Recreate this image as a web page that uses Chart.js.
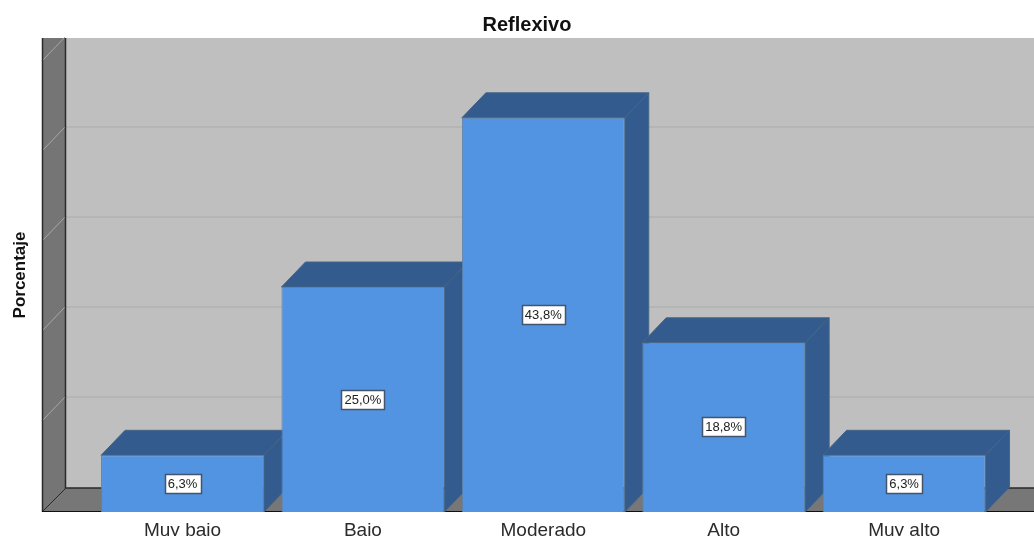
<!DOCTYPE html>
<html><head><meta charset="utf-8">
<style>html,body{margin:0;padding:0;background:#fff;overflow:hidden}#w{width:1034px;height:536px;position:relative}</style>
<script src="https://cdn.jsdelivr.net/npm/chart.js@4"></script>
</head><body><div id="w"><canvas id="c"></canvas></div>
<script>
const categories = ["Muy bajo","Bajo","Moderado","Alto","Muy alto"];
const values = [6.3,25.0,43.8,18.8,6.3];
const valueLabels = ["6,3%","25,0%","43,8%","18,8%","6,3%"];
const gridTicks = [10,20,30,40,50];
const chartTitle = "Reflexivo";
const axisTitle = "Porcentaje";
const yMax = 52.67;
const DX = 24, DY = 25, WALL_LEFT = 42;

const scene3d = {
  id:'scene3d',
  beforeDatasetsDraw(chart){
    const {ctx,scales:{x,y},chartArea:a,width} = chart;
    const y0 = y.getPixelForValue(0), back0 = y0-24, wx = WALL_LEFT+DX;
    const top = a.top;
    ctx.save();
    // back wall
    ctx.fillStyle='#bfbfbf'; ctx.fillRect(wx,top,width-wx,back0-top);
    // floor
    ctx.fillStyle='#777777'; ctx.beginPath();
    ctx.moveTo(WALL_LEFT,y0);ctx.lineTo(wx,back0);ctx.lineTo(width,back0);ctx.lineTo(width,y0);ctx.closePath();ctx.fill();
    // left wall
    ctx.fillStyle='#757575'; ctx.beginPath();
    ctx.moveTo(WALL_LEFT,top);ctx.lineTo(wx,top);ctx.lineTo(wx,back0);ctx.lineTo(WALL_LEFT,y0);ctx.closePath();ctx.fill();
    // grid lines on wall and back
    gridTicks.forEach(t=>{
      const py = y.getPixelForValue(t)-DY;
      ctx.lineWidth=1;
      ctx.strokeStyle='#a8a8a8'; ctx.beginPath();ctx.moveTo(wx-1,py);ctx.lineTo(WALL_LEFT+1,py+DX-1);ctx.stroke();
      if(t<50){ctx.strokeStyle='#b2b2b2';ctx.lineWidth=1.5;ctx.beginPath();ctx.moveTo(wx,py);ctx.lineTo(width,py);ctx.stroke();}
    });
    // wall outlines
    ctx.strokeStyle='#2a2a2a';ctx.lineWidth=1.5;
    ctx.beginPath();ctx.moveTo(WALL_LEFT+.5,top);ctx.lineTo(WALL_LEFT+.5,y0);ctx.stroke();
    ctx.beginPath();ctx.moveTo(wx-.5,top);ctx.lineTo(wx-.5,back0);ctx.lineTo(width,back0);ctx.stroke();
    ctx.lineWidth=1;
    ctx.beginPath();ctx.moveTo(WALL_LEFT,y0);ctx.lineTo(wx,back0);ctx.stroke();
    ctx.strokeStyle='#111';ctx.beginPath();ctx.moveTo(WALL_LEFT,y0-.5);ctx.lineTo(width,y0-.5);ctx.stroke();
    // 3D bar faces
    chart.getDatasetMeta(0).data.forEach(b=>{
      const p=b.getProps(['x','y','base','width'],true);
      const l=p.x-p.width/2,r=p.x+p.width/2,t=p.y,bm=p.base;
      ctx.lineWidth=1;ctx.strokeStyle='#456488';ctx.fillStyle='#335b8e';
      ctx.beginPath();ctx.moveTo(l,t);ctx.lineTo(l+DX,t-DY);ctx.lineTo(r+DX,t-DY);ctx.lineTo(r,t);ctx.closePath();ctx.fill();ctx.stroke();
      ctx.beginPath();ctx.moveTo(r,t);ctx.lineTo(r+DX,t-DY);ctx.lineTo(r+DX,bm-DY);ctx.lineTo(r,bm);ctx.closePath();ctx.fill();ctx.stroke();
    });
    ctx.restore();
  },
  afterDatasetsDraw(chart){
    const {ctx}=chart;
    ctx.save();
    ctx.font='13px "Liberation Sans"';ctx.textAlign='center';ctx.textBaseline='middle';
    chart.getDatasetMeta(0).data.forEach((b,i)=>{
      const p=b.getProps(['x','y','base'],true);
      const cy=(p.y+p.base)/2-0.5, w=ctx.measureText(valueLabels[i]).width+6, h=19;
      const bx=Math.round(p.x-w/2)+.5, by=Math.round(cy-h/2)+.5;
      ctx.fillStyle='#fff';ctx.strokeStyle='#44546a';ctx.lineWidth=1.5;
      ctx.fillRect(bx,by,Math.round(w),h);ctx.strokeRect(bx,by,Math.round(w),h);
      ctx.fillStyle='#222';ctx.fillText(valueLabels[i],p.x,cy+1);
    });
    ctx.restore();
  }
};

new Chart(document.getElementById('c'),{
  type:'bar',
  data:{labels:categories,datasets:[{data:values,backgroundColor:'#5294e2',borderColor:'#5f82a8',borderWidth:1,barPercentage:.903,categoryPercentage:1}]},
  plugins:[scene3d],
  options:{
    responsive:true,maintainAspectRatio:false,animation:false,
    layout:{padding:{left:20,right:0,top:0,bottom:0}},
    plugins:{legend:{display:false},tooltip:{enabled:false},
      title:{display:true,text:chartTitle,color:'#111',font:{family:'"Liberation Sans"',size:20,weight:'bold'},padding:{top:13,bottom:1}}},
    scales:{
      x:{grid:{display:false},border:{display:false},
        ticks:{color:'#2b2b2b',font:{family:'"Liberation Sans"',size:19},padding:-1,maxRotation:0},
        afterFit(s){s.height=24;}},
      y:{min:0,max:yMax,grid:{display:false},border:{display:false},
        ticks:{display:false},
        title:{display:true,text:axisTitle,color:'#111',font:{family:'"Liberation Sans"',size:17,weight:'bold'},padding:{top:-10,bottom:0}},
        afterFit(s){s.width=72.3;}},
      yR:{position:'right',min:0,max:1,grid:{display:false},border:{display:false},ticks:{display:false},afterFit(s){s.width=39.7;}}
    }
  }
});
</script></body></html>
